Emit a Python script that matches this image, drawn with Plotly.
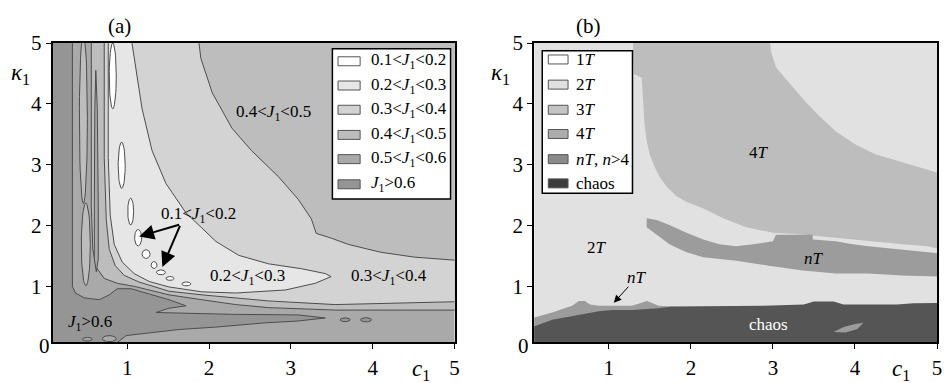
import numpy as np
import plotly.graph_objects as go

FONT = "Liberation Serif, Times New Roman, DejaVu Serif, serif"
EDGE = "#4d4d4d"

# ---------------- (a) J1 level map, region outlines in (c1, kappa1) ----------------
# J1 > 0.6: left strip, lower-left corner, wedge and the long tongue
a_gt06_c = [0.0, 0.331, 0.331, 0.368, 0.477, 0.660, 0.781, 0.878, 1.049, 1.268, 1.511, 1.717, 1.511,
            1.353, 2.277, 3.088, 3.420, 3.088, 2.690, 2.082, 1.632, 1.304, 0.988, 0.805, 0.0]
a_gt06_k = [5.2, 5.2, 1.00, 0.89, 0.81, 0.78, 0.86, 0.96, 0.96, 0.88, 0.78, 0.68, 0.64,
            0.57, 0.54, 0.53, 0.48, 0.43, 0.40, 0.33, 0.29, 0.24, 0.19, 0.0, 0.0]
# 0.5<J1<0.6 pockets inside the lower-left corner (centre, half widths)
a_pocket_c = [0.514, 0.781]
a_pocket_k = [0.13, 0.14]
a_pocket_dc = [0.06, 0.085]
a_pocket_dk = [0.03, 0.05]
# J1 > 0.6 islands right of the tongue
a_isle6_c = [3.663, 3.918]
a_isle6_k = [0.45, 0.45]
a_isle6_dc = [0.061, 0.067]
a_isle6_dk = [0.032, 0.035]
# 0.4<J1<0.5 band following the corner
a_band45_c = [0.562, 0.562, 0.580, 0.623, 0.720, 0.878, 1.085, 1.328, 1.511, 1.912, 2.325, 2.727,
              3.541, 4.343, 5.1, 5.1]
a_band45_k = [5.2, 2.32, 1.61, 1.31, 1.13, 1.05, 1.00, 0.92, 0.86, 0.78, 0.70, 0.65,
              0.61, 0.61, 0.61, 5.2]
# 0.3<J1<0.4 region
a_j34_c = [0.720, 0.720, 0.745, 0.781, 0.854, 0.964, 1.146, 1.328, 1.511, 1.912, 2.325, 2.727,
           3.541, 4.343, 5.1, 5.1]
a_j34_k = [5.2, 3.12, 2.09, 1.61, 1.34, 1.18, 1.07, 0.99, 0.92, 0.86, 0.81, 0.76,
           0.70, 0.72, 0.75, 5.2]
# 0.4<J1<0.5 upper-right region
a_up45_c = [1.86, 1.90, 2.04, 2.28, 2.52, 2.85, 3.09, 3.25, 3.31, 3.50, 3.70, 4.10, 4.51, 5.1, 5.1]
a_up45_k = [5.2, 4.75, 4.18, 3.60, 3.23, 2.80, 2.43, 2.11, 1.87, 1.79, 1.69, 1.56, 1.48, 1.42, 5.2]
# 0.2<J1<0.3 region
a_j23_c = [1.049, 1.061, 1.182, 1.304, 1.474, 1.717, 1.912, 2.082, 2.362, 2.727, 3.128, 3.420, 3.492,
           3.298, 2.933, 2.325, 1.912, 1.511, 1.268, 1.085, 0.939, 0.842, 0.793, 0.769, 0.769]
a_j23_k = [5.2, 4.98, 3.92, 3.23, 2.69, 2.21, 1.96, 1.74, 1.51, 1.37, 1.29, 1.21, 1.16,
           1.05, 0.94, 0.89, 0.91, 0.99, 1.08, 1.21, 1.40, 1.69, 2.17, 3.12, 5.2]
# 0.1<J1<0.2 islands (centre, half widths)
a_isle1_c = [0.824, 0.933, 1.043, 1.134, 1.231, 1.328, 1.413, 1.523, 1.723]
a_isle1_k = [4.46, 2.99, 2.23, 1.80, 1.53, 1.35, 1.23, 1.13, 1.04]
a_isle1_dc = [0.043, 0.043, 0.036, 0.043, 0.049, 0.036, 0.055, 0.049, 0.055]
a_isle1_dk = [0.54, 0.38, 0.22, 0.135, 0.072, 0.056, 0.040, 0.032, 0.032]
# thin 0.4<J1<0.5 strips in the left 0.5<J1<0.6 band
a_strip_c = [0.465, 0.495]
a_strip_k = [3.76, 1.69]
a_strip_dc = [0.049, 0.055]
a_strip_dk = [1.40, 0.68]
# 0.5<J1<0.6 spike
a_spike_c = [0.617, 0.635, 0.647, 0.647, 0.623, 0.599, 0.599, 0.605]
a_spike_k = [4.55, 3.92, 2.32, 1.45, 1.24, 1.45, 2.32, 3.92]

a_legend_labels = ["0.1<J1<0.2", "0.2<J1<0.3", "0.3<J1<0.4", "0.4<J1<0.5", "0.5<J1<0.6", "J1>0.6"]
a_colors = ["#ffffff", "#e6e6e6", "#d3d3d3", "#bdbdbd", "#a9a9a9", "#959595"]

a_text = ["0.4<J1<0.5", "0.1<J1<0.2", "0.2<J1<0.3", "0.3<J1<0.4", "J1>0.6"]
a_text_c = [2.79, 1.87, 2.47, 4.20, 0.55]
a_text_k = [3.85, 2.17, 1.15, 1.15, 0.40]
# arrows from the 0.1<J1<0.2 label to two islands
a_arrow_tail = (1.653, 2.02)
a_arrow_heads_c = [1.146, 1.43]
a_arrow_heads_k = [1.82, 1.32]

# ---------------- (b) periodicity map ----------------
b_p4_c = [1.291, 1.303, 1.400, 1.424, 1.436, 1.461, 1.497, 1.558, 1.618, 1.703, 1.824, 1.945, 2.152,
          2.394, 2.673, 3.000, 3.279, 3.764, 4.164, 4.576, 4.891, 5.1, 5.1, 5.0, 4.576, 4.248, 4.006,
          3.764, 3.558, 3.400, 3.194, 3.036, 2.976, 2.952]
b_p4_k = [5.2, 4.49, 4.43, 3.92, 3.65, 3.39, 3.17, 2.96, 2.80, 2.64, 2.48, 2.39, 2.28,
          2.12, 1.97, 1.88, 1.86, 1.80, 1.74, 1.69, 1.66, 1.59, 2.87, 2.87, 3.04, 3.17, 3.33,
          3.55, 3.81, 4.03, 4.35, 4.60, 4.87, 5.2]
b_nt_c = [1.461, 1.582, 1.739, 1.945, 2.152, 2.345, 2.552, 2.758, 3.000, 3.036, 3.485, 3.485, 3.764,
          3.970, 4.164, 4.576, 4.891, 5.1, 5.1, 4.576, 4.164, 3.764, 3.364, 2.952, 2.552, 2.152,
          1.945, 1.739, 1.582, 1.461]
b_nt_k = [2.12, 2.09, 2.01, 1.88, 1.77, 1.69, 1.66, 1.69, 1.74, 1.85, 1.85, 1.77, 1.74,
          1.69, 1.66, 1.61, 1.56, 1.53, 1.16, 1.18, 1.21, 1.21, 1.26, 1.34, 1.42, 1.48,
          1.56, 1.69, 1.85, 1.97]
b_ntlow_c = [0.0, 0.103, 0.309, 0.467, 0.552, 0.636, 0.709, 0.770, 0.879, 1.073, 1.279, 1.400,
             1.461, 1.521, 1.606, 1.764, 1.945, 0.0]
b_ntlow_k = [0.48, 0.49, 0.57, 0.64, 0.68, 0.76, 0.76, 0.70, 0.68, 0.68, 0.68, 0.73,
             0.76, 0.73, 0.68, 0.67, 0.57, 0.10]
b_chaos_c = [0.0, 0.103, 0.309, 0.467, 0.673, 0.879, 1.036, 1.279, 1.606, 1.764, 2.891, 3.376,
             3.497, 3.739, 3.861, 4.515, 4.709, 5.1, 5.1, 0.0]
b_chaos_k = [0.35, 0.35, 0.45, 0.49, 0.54, 0.59, 0.61, 0.61, 0.64, 0.67, 0.68, 0.70,
             0.75, 0.75, 0.70, 0.70, 0.72, 0.73, 0.0, 0.0]
b_patch_c = [3.739, 3.861, 4.006, 4.103, 4.030, 3.885]
b_patch_k = [0.25, 0.33, 0.38, 0.40, 0.30, 0.24]

b_legend_labels = ["1T", "2T", "3T", "4T", "nT, n>4", "chaos"]
b_colors = ["#ffffff", "#e0e0e0", "#c4c4c4", "#acacac", "#8a8a8a", "#3c3c3c"]
B_BG, B_P4, B_NT, B_CHAOS = "#e1e1e1", "#bdbdbd", "#9c9c9c", "#555555"

b_text = ["4T", "2T", "nT", "nT", "chaos"]
b_text_c = [2.83, 0.86, 3.50, 1.34, 2.94]
b_text_k = [3.20, 1.64, 1.45, 1.15, 0.38]
b_arrow_tail = (1.255, 1.02)
b_arrow_head = (1.061, 0.73)


def j_markup(s):
    s = s.replace("<", "&lt;").replace(">", "&gt;")
    return s.replace("J1", "<i>J</i><sub>1</sub>")


def t_markup(s):
    if s == "chaos":
        return s
    s = s.replace(">", "&gt;").replace("n", "<i>n</i>")
    return s.replace("T", "<i>T</i>")


fig = go.Figure()


def poly(c, k, fill, xa, ya, edge=True):
    c = list(c) + [c[0]]
    k = list(k) + [k[0]]
    fig.add_trace(go.Scatter(
        x=c, y=k, mode="lines", fill="toself", fillcolor=fill,
        line=dict(color=EDGE if edge else fill, width=1 if edge else 0),
        xaxis=xa, yaxis=ya, hoverinfo="skip", showlegend=False))


def ellipse(c, k, dc, dk, n=48):
    t = np.linspace(0, 2 * np.pi, n, endpoint=False)
    return c + dc * np.cos(t), k + dk * np.sin(t)


# ----- panel (a) -----
poly(a_gt06_c, a_gt06_k, a_colors[5], "x", "y")
for c, k, dc, dk in zip(a_pocket_c, a_pocket_k, a_pocket_dc, a_pocket_dk):
    poly(*ellipse(c, k, dc, dk), a_colors[4], "x", "y")
for c, k, dc, dk in zip(a_isle6_c, a_isle6_k, a_isle6_dc, a_isle6_dk):
    poly(*ellipse(c, k, dc, dk), a_colors[5], "x", "y")
poly(a_band45_c, a_band45_k, a_colors[3], "x", "y")
poly(a_j34_c, a_j34_k, a_colors[2], "x", "y")
poly(a_up45_c, a_up45_k, a_colors[3], "x", "y")
poly(a_j23_c, a_j23_k, a_colors[1], "x", "y")
for c, k, dc, dk in zip(a_isle1_c, a_isle1_k, a_isle1_dc, a_isle1_dk):
    poly(*ellipse(c, k, dc, dk), a_colors[0], "x", "y")
for c, k, dc, dk in zip(a_strip_c, a_strip_k, a_strip_dc, a_strip_dk):
    poly(*ellipse(c, k, dc, dk), a_colors[3], "x", "y")
poly(a_spike_c, a_spike_k, a_colors[4], "x", "y")

# ----- panel (b) -----
poly(b_p4_c, b_p4_k, B_P4, "x2", "y2", edge=False)
poly(b_nt_c, b_nt_k, B_NT, "x2", "y2", edge=False)
poly(b_ntlow_c, b_ntlow_k, B_NT, "x2", "y2", edge=False)
poly(b_chaos_c, b_chaos_k, B_CHAOS, "x2", "y2", edge=False)
poly(b_patch_c, b_patch_k, B_NT, "x2", "y2", edge=False)

DOM_Y = [0.1097, 0.9164]
axis_common = dict(
    range=[0.09, 5.0], tickvals=[1, 2, 3, 4, 5], showgrid=False, zeroline=False,
    showline=True, mirror=True, linecolor="black", linewidth=2,
    ticks="outside", ticklen=5, tickcolor="black",
    tickfont=dict(family=FONT, size=21, color="black"))

fig.update_layout(
    width=944, height=383, margin=dict(l=0, r=0, t=0, b=0),
    paper_bgcolor="white", plot_bgcolor="white", showlegend=False,
    font=dict(family=FONT, size=16, color="black"),
    xaxis=dict(domain=[0.0561, 0.4841], anchor="y", **axis_common),
    yaxis=dict(domain=DOM_Y, anchor="x", **{**axis_common, "range": [0.08, 5.0]}),
    xaxis2=dict(domain=[0.5689, 0.9979], anchor="y2", **axis_common),
    yaxis2=dict(domain=DOM_Y, anchor="x2", **{**axis_common, "range": [0.08, 5.0]}),
)

shapes = [
    dict(type="rect", xref="x domain", yref="y domain", x0=0, x1=1, y0=0, y1=1,
         fillcolor=a_colors[4], line=dict(width=0), layer="below"),
    dict(type="rect", xref="x2 domain", yref="y2 domain", x0=0, x1=1, y0=0, y1=1,
         fillcolor=B_BG, line=dict(width=0), layer="below"),
]
annotations = []

# legend boxes drawn inside each panel
legend_specs = [
    ("x domain", "y domain", (0.696, 0.990, 0.479, 0.981), (0.710, 0.765), 0.787,
     [0.939, 0.858, 0.777, 0.693, 0.612, 0.528], a_colors, [j_markup(s) for s in a_legend_labels]),
    ("x2 domain", "y2 domain", (0.020, 0.244, 0.498, 0.974), (0.035, 0.084), 0.099,
     [0.945, 0.861, 0.777, 0.696, 0.612, 0.531], b_colors, [t_markup(s) for s in b_legend_labels]),
]
for xr, yr, box, sw, tx, rows, cols, labels in legend_specs:
    shapes.append(dict(type="rect", xref=xr, yref=yr, x0=box[0], x1=box[1], y0=box[2], y1=box[3],
                       fillcolor="white", line=dict(color="black", width=1.5), layer="above"))
    for yy, col, lab in zip(rows, cols, labels):
        shapes.append(dict(type="rect", xref=xr, yref=yr, x0=sw[0], x1=sw[1], y0=yy - 0.015,
                           y1=yy + 0.015, fillcolor=col, line=dict(color="#555555", width=1),
                           layer="above"))
        annotations.append(dict(xref=xr, yref=yr, x=tx, y=yy, text=lab, showarrow=False,
                                xanchor="left", yanchor="middle",
                                font=dict(family=FONT, size=17, color="black")))

for s, c, k in zip(a_text, a_text_c, a_text_k):
    annotations.append(dict(xref="x", yref="y", x=c, y=k, text=j_markup(s), showarrow=False,
                            font=dict(family=FONT, size=17, color="black")))
for hc, hk in zip(a_arrow_heads_c, a_arrow_heads_k):
    annotations.append(dict(xref="x", yref="y", axref="x", ayref="y", x=hc, y=hk,
                            ax=a_arrow_tail[0], ay=a_arrow_tail[1], text="", showarrow=True,
                            arrowhead=2, arrowsize=1.5, arrowwidth=2, arrowcolor="black"))

for s, c, k in zip(b_text, b_text_c, b_text_k):
    annotations.append(dict(xref="x2", yref="y2", x=c, y=k, text=t_markup(s), showarrow=False,
                            font=dict(family=FONT, size=17,
                                      color="white" if s == "chaos" else "black")))
annotations.append(dict(xref="x2", yref="y2", axref="x2", ayref="y2", x=b_arrow_head[0],
                        y=b_arrow_head[1], ax=b_arrow_tail[0], ay=b_arrow_tail[1], text="",
                        showarrow=True, arrowhead=2, arrowsize=1.5, arrowwidth=1,
                        arrowcolor="black"))

# panel tags, axis titles and the shared corner zero
for txt, x, y, size in [
    ("(a)", 0.127, 0.961, 21), ("(b)", 0.627, 0.961, 21),
    ("<i>κ</i><sub>1</sub>", 0.022, 0.832, 23), ("<i>κ</i><sub>1</sub>", 0.533, 0.832, 23),
    ("<i>c</i><sub>1</sub>", 0.448, 0.036, 23), ("<i>c</i><sub>1</sub>", 0.960, 0.036, 23),
    ("0", 0.0477, 0.099, 21), ("0", 0.557, 0.099, 21),
]:
    annotations.append(dict(xref="paper", yref="paper", x=x, y=y, text=txt, showarrow=False,
                            xanchor="center", yanchor="middle",
                            font=dict(family=FONT, size=size, color="black")))

fig.update_layout(shapes=shapes, annotations=annotations)
fig.write_html("out.html")
